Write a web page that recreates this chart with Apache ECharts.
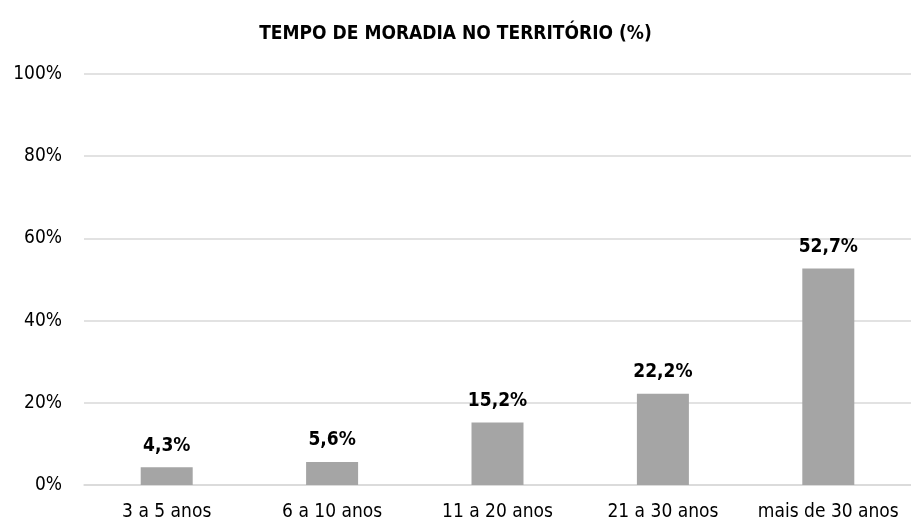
<!DOCTYPE html>
<html>
<head>
<meta charset="utf-8">
<script src="https://cdn.jsdelivr.net/npm/echarts@6/dist/echarts.min.js"></script>
<style>
  html, body { margin: 0; padding: 0; background: #fff; }
  #main { width: 911px; height: 523px; }
</style>
</head>
<body>
<div id="main"></div>
<script>
var categories = ["3 a 5 anos", "6 a 10 anos", "11 a 20 anos", "21 a 30 anos", "mais de 30 anos"];
var values = [4.3, 5.6, 15.2, 22.2, 52.7];
var yTicks = [0, 20, 40, 60, 80, 100];

var font = "'Liberation Sans Narrow', 'Arial Narrow', 'DejaVu Sans Condensed', sans-serif";

var chart = echarts.init(document.getElementById('main'));
chart.setOption({
    animation: false,
    title: {
        text: 'TEMPO DE MORADIA NO TERRITÓRIO (%)',
        left: 'center',
        top: 20,
        textStyle: { fontFamily: font, fontSize: 19, fontWeight: 'bold', color: '#000' }
    },
    grid: { left: 84, right: 0, top: 74, bottom: 38 },
    xAxis: {
        type: 'category',
        data: categories,
        axisLine: { lineStyle: { color: '#d9d9d9', width: 1.5 } },
        axisTick: { show: false },
        axisLabel: { fontFamily: font, fontSize: 19, color: '#000', margin: 18, interval: 0, hideOverlap: false }
    },
    yAxis: {
        type: 'value',
        min: yTicks[0],
        max: yTicks[yTicks.length - 1],
        interval: 20,
        axisLine: { show: false },
        axisTick: { show: false },
        splitLine: { lineStyle: { color: '#d9d9d9', width: 1.5 } },
        axisLabel: {
            fontFamily: font, fontSize: 19, color: '#000', margin: 22,
            formatter: function (v) { return v + '%'; }
        }
    },
    series: [{
        type: 'bar',
        data: values,
        barWidth: 52,
        itemStyle: { color: '#a5a5a5' },
        label: {
            show: true,
            position: 'top',
            distance: 12,
            fontFamily: font,
            fontSize: 19,
            fontWeight: 'bold',
            color: '#000',
            formatter: function (p) { return p.value.toFixed(1).replace('.', ',') + '%'; }
        }
    }]
});
</script>
</body>
</html>
